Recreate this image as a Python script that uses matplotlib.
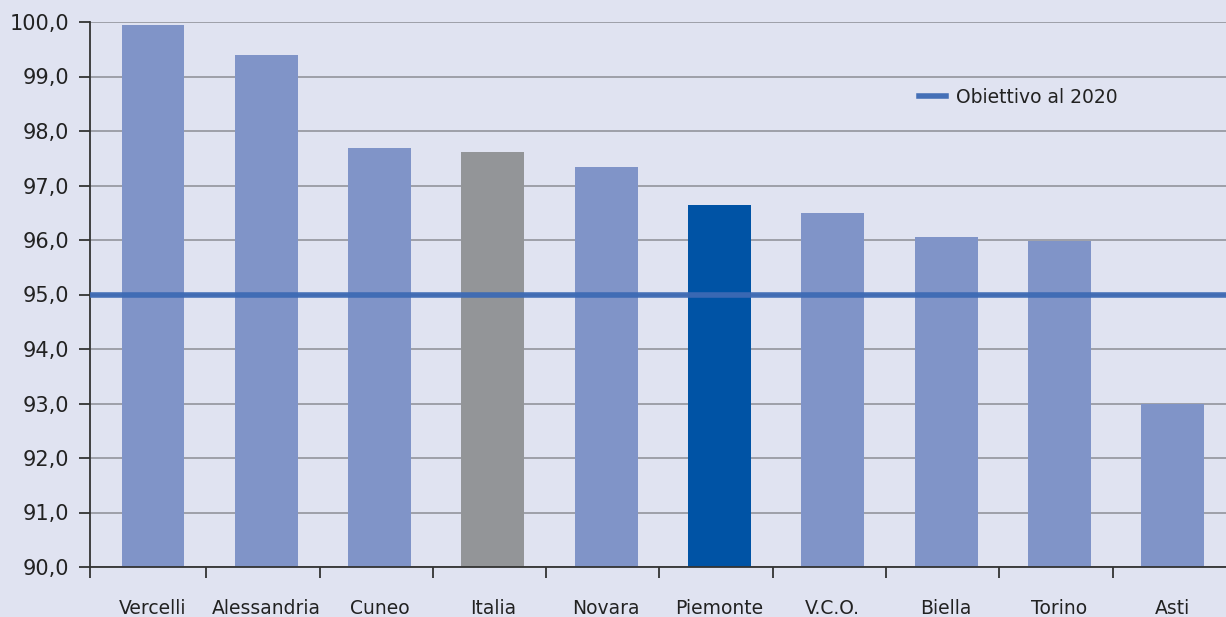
import matplotlib
matplotlib.use("Agg")
import matplotlib.pyplot as plt
from matplotlib.ticker import FuncFormatter

categories = ["Vercelli", "Alessandria", "Cuneo", "Italia", "Novara",
              "Piemonte", "V.C.O.", "Biella", "Torino", "Asti"]
values = [99.95, 99.40, 97.69, 97.61, 97.34, 96.64, 96.49, 96.05, 95.98, 93.00]
target = 95.0
target_label = "Obiettivo al 2020"
yticks = [90, 91, 92, 93, 94, 95, 96, 97, 98, 99, 100]

bg = "#e0e3f1"
base_col = "#8094c8"
special = {"Italia": "#939598", "Piemonte": "#0053a5"}
colors = [special.get(c, base_col) for c in categories]

plt.rcParams['font.family'] = ['DejaVu Sans']

fig = plt.figure(figsize=(12.26, 6.17), dpi=100, facecolor=bg)
ax = fig.add_axes([90/1226, 50/617, 1136/1226, 545/617], facecolor=bg)

x = list(range(len(categories)))
ax.bar(x, values, width=0.555, color=colors, zorder=2)
ax.axhline(target, color="#3d6ab4", lw=4, zorder=3, alpha=0.95, label=target_label)

ax.set_ylim(90, 100)
ax.set_xlim(-0.556, len(categories) - 0.53)
ax.set_yticks(yticks)
ax.yaxis.set_major_formatter(FuncFormatter(lambda v, p: f"{v:.1f}".replace(".", ",")))
ax.grid(axis="y", color="#8c8d95", lw=1.1, zorder=1)
ax.set_axisbelow(True)

ax.set_xticks([-0.556] + [i + 0.47 for i in range(len(categories) - 1)], minor=False)
ax.set_xticklabels([])
ax.set_xticks(x, minor=True)
ax.set_xticklabels(categories, minor=True, fontsize=13.5, color="#222222")
ax.tick_params(axis="x", which="minor", length=0, pad=23)
ax.tick_params(axis="x", which="major", length=8, width=1.3, color="#333333", direction="out")
ax.tick_params(axis="y", length=8, width=1.3, color="#333333", labelsize=15,
               labelcolor="#222222", pad=7)

for s in ["top", "right"]:
    ax.spines[s].set_visible(False)
for s in ["left", "bottom"]:
    ax.spines[s].set_color("#333333")
    ax.spines[s].set_linewidth(1.3)

leg = ax.legend(loc="center left", bbox_to_anchor=(0.7297, 0.862), frameon=False,
                fontsize=13.5, handlelength=1.45, handletextpad=0.55,
                borderaxespad=0, borderpad=0)
for t in leg.get_texts():
    t.set_color("#222222")

fig.savefig("out.png", dpi=100, facecolor=bg)
